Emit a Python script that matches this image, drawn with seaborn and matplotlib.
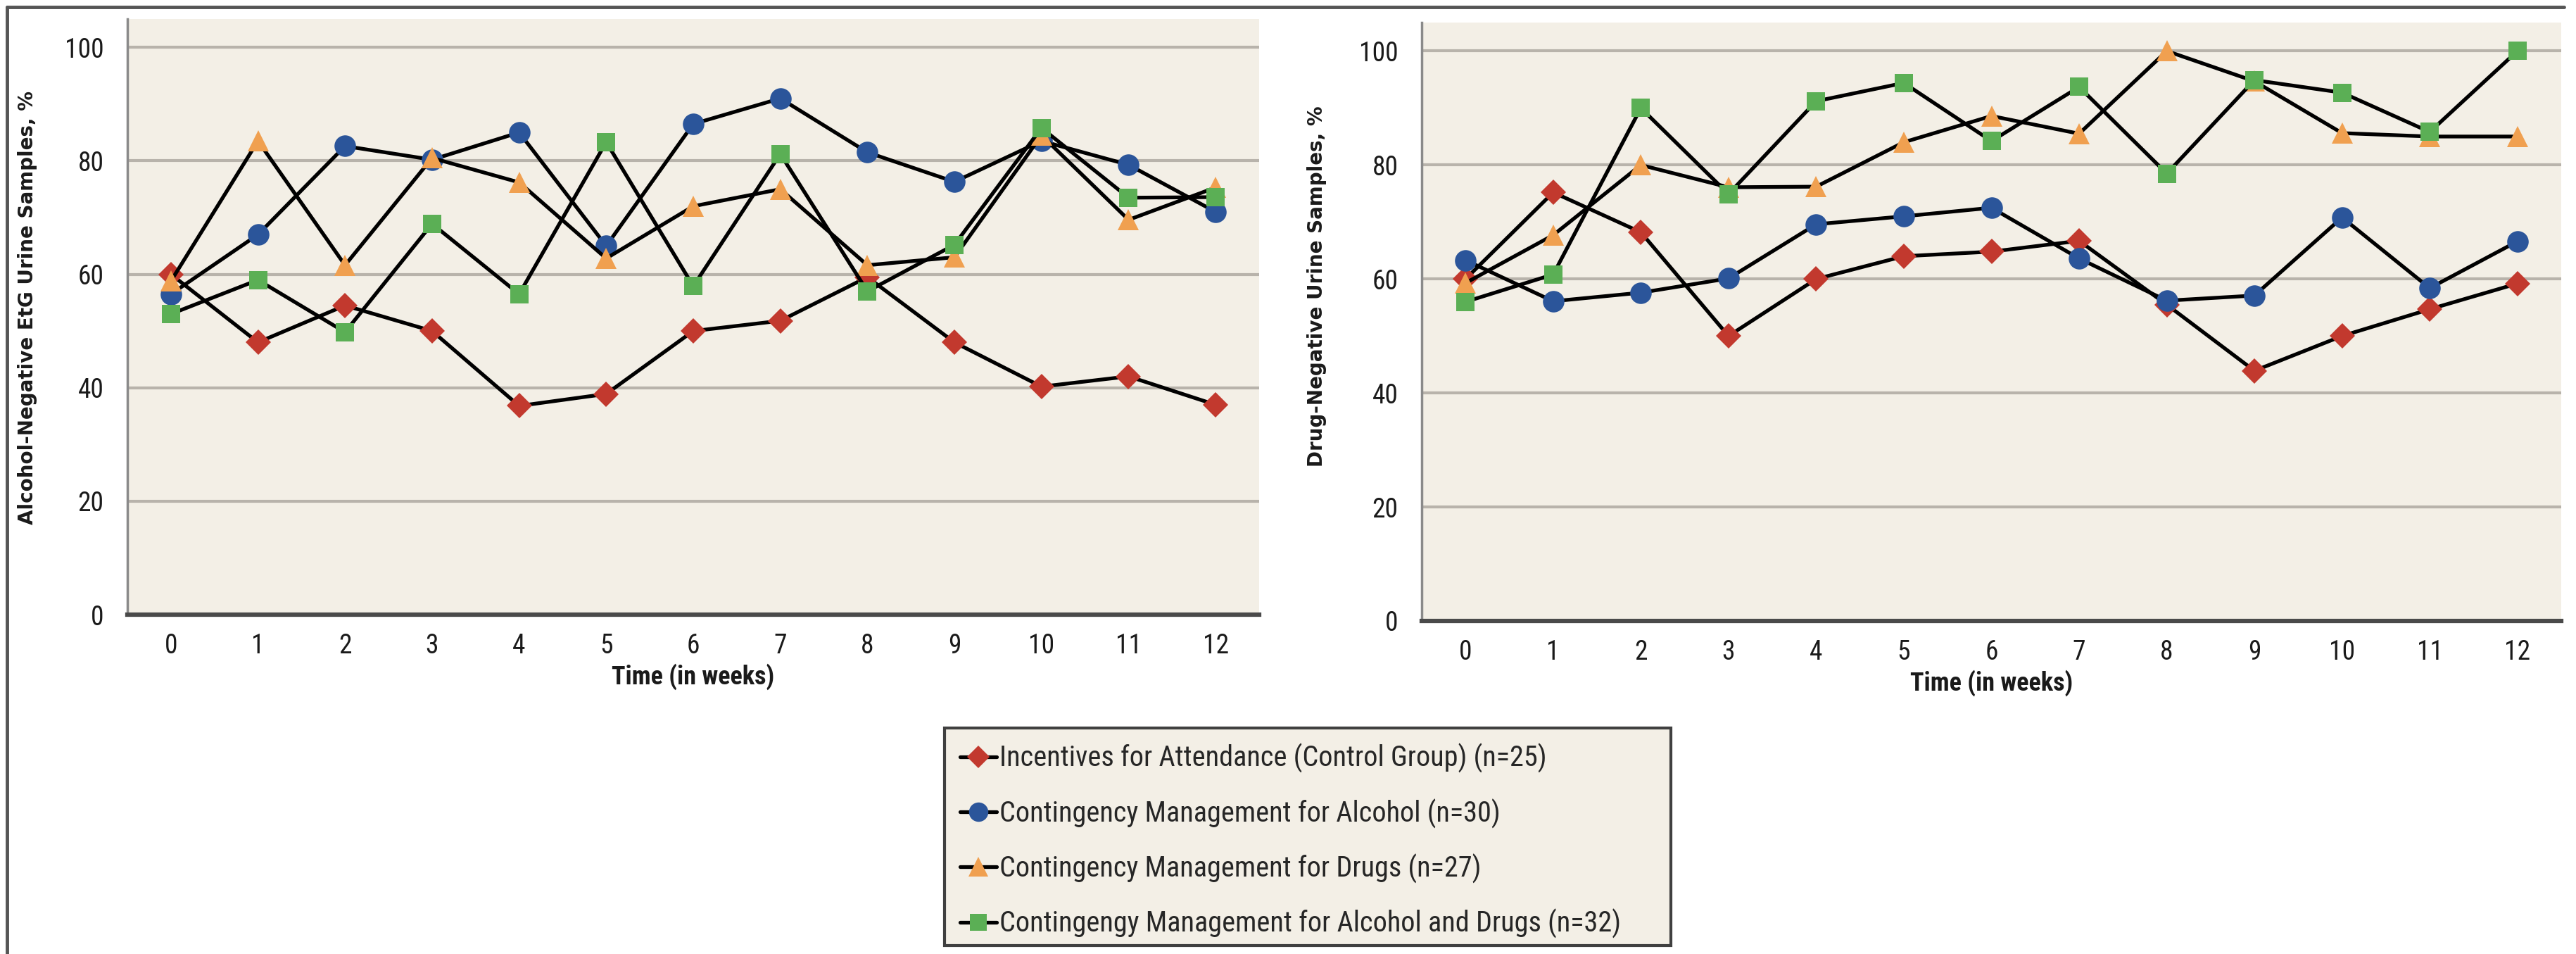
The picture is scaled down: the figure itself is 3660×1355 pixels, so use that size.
import matplotlib
matplotlib.use("Agg")
import matplotlib.pyplot as plt
import seaborn as sns
import numpy as np
import pandas as pd
from matplotlib.lines import Line2D
from matplotlib.patches import Rectangle
from matplotlib import font_manager

weeks = list(range(13))

series_names = [
    "Incentives for Attendance (Control Group) (n=25)",
    "Contingency Management for Alcohol (n=30)",
    "Contingency Management for Drugs (n=27)",
    "Contingengy Management for Alcohol and Drugs (n=32)",
]

# Alcohol-negative EtG urine samples, %
alc_control = [60, 48, 54.5, 50, 36.8, 38.9, 50, 51.8, 59.5, 48, 40.2, 42, 37]
alc_cm_alcohol = [56.5, 67, 82.6, 80.2, 85, 65, 86.5, 91, 81.5, 76.3, 83.5, 79.3, 71]
alc_cm_drugs = [58.8, 83.5, 61.6, 80.5, 76.2, 62.8, 72, 75, 61.6, 63, 84.5, 69.6, 75.3]
alc_cm_both = [53, 59, 49.8, 68.9, 56.5, 83.3, 57.9, 81.2, 57, 65.2, 85.8, 73.5, 73.6]

# Drug-negative urine samples, %
drg_control = [60, 75.2, 68.2, 50, 60, 64, 64.8, 66.7, 55.5, 43.9, 50, 54.7, 59.2]
drg_cm_alcohol = [63.3, 56.1, 57.6, 60.1, 69.6, 71, 72.5, 63.6, 56.2, 57.1, 70.8, 58.4, 66.6]
drg_cm_drugs = [59.3, 67.7, 80, 76.1, 76.2, 84, 88.6, 85.5, 100, 94.7, 85.6, 85, 85]
drg_cm_both = [56, 60.8, 90, 74.9, 91.2, 94.4, 84.2, 93.7, 78.5, 94.9, 92.7, 85.8, 100]

y_ticks = [0, 20, 40, 60, 80, 100]

colors = ["#C2392E", "#2B559A", "#F0A050", "#5BAF55"]
markers = ["D", "o", "^", "s"]
msizes = [18, 22, 22, 19]

bg = "#F3EFE6"
grid_c = "#B8B3AB"

sns.set_theme(style="white")

# pick a condensed font if one is installed
entries = font_manager.fontManager.ttflist
names = {f.name for f in entries}
narrow_family = None
narrow_stretch = "normal"
for cand in ["Liberation Sans Narrow", "Roboto Condensed", "Open Sans Condensed",
             "DejaVu Sans Condensed", "Noto Sans Condensed"]:
    if cand in names:
        narrow_family = cand
        break
if narrow_family is None:
    for f in entries:
        if f.name in ("DejaVu Sans", "Noto Sans", "Open Sans", "Roboto") and \
                str(f.stretch) in ("condensed", "semi-condensed", "extra-condensed", "75", "87.5"):
            narrow_family = f.name
            narrow_stretch = "condensed"
            break
if narrow_family is None:
    narrow_family = "DejaVu Sans"
    is_narrow = False
else:
    is_narrow = True

plt.rcParams["font.family"] = [narrow_family, "DejaVu Sans"]
plt.rcParams["font.stretch"] = narrow_stretch

k = 1.0 if is_narrow else 0.78
tick_fs = 27 * k
xlabel_fs = 26 * k
legend_fs = 29 * k

W, H = 3660, 1355
fig = plt.figure(figsize=(W / 100, H / 100), dpi=100)
fig.patch.set_facecolor("white")

ax1 = fig.add_axes([181 / W, 1 - 873 / H, 1608 / W, 846 / H])
ax2 = fig.add_axes([2020 / W, 1 - 882 / H, 1619 / W, 850 / H])

panels = [
    (ax1, [alc_control, alc_cm_alcohol, alc_cm_drugs, alc_cm_both],
     "Alcohol-Negative EtG Urine Samples, %", (-0.0796, 0.515)),
    (ax2, [drg_control, drg_cm_alcohol, drg_cm_drugs, drg_cm_both],
     "Drug-Negative Urine Samples, %", (-0.0834, 0.559)),
]

for ax, data, ylabel, lab_xy in panels:
    ax.set_facecolor(bg)
    for vals, c, m, ms, name in zip(data, colors, markers, msizes, series_names):
        df = pd.DataFrame({"week": weeks, "value": vals})
        sns.lineplot(data=df, x="week", y="value", ax=ax, color="black",
                     linewidth=3.8, marker=m, markersize=ms,
                     markerfacecolor=c, markeredgecolor=c, markeredgewidth=0,
                     zorder=3, label=None)
    ax.set_xlim(-0.5, 12.5)
    ax.set_ylim(0, 105)
    ax.set_xticks(weeks)
    ax.set_xticklabels([str(w) for w in weeks])
    ax.set_yticks(y_ticks)
    ax.set_yticklabels([str(t) for t in y_ticks])
    ax.yaxis.grid(True, color=grid_c, linewidth=3)
    ax.xaxis.grid(False)
    ax.set_axisbelow(True)
    for s in ["top", "right"]:
        ax.spines[s].set_visible(False)
    ax.spines["left"].set_color("#8A8A8A")
    ax.spines["left"].set_linewidth(2.5)
    ax.spines["bottom"].set_color("#4A4A4A")
    ax.spines["bottom"].set_linewidth(4.5)
    ax.tick_params(axis="both", length=0, labelsize=tick_fs, colors="#1A1A1A")
    ax.tick_params(axis="y", pad=24)
    ax.tick_params(axis="x", pad=19)
    ax.set_xlabel("Time (in weeks)", fontsize=xlabel_fs, fontweight="bold",
                  color="#1A1A1A", labelpad=4)
    ax.set_ylabel(ylabel, fontsize=20, fontweight="bold", color="#1A1A1A",
                  family=["DejaVu Sans"], fontstretch="normal")
    ax.yaxis.set_label_coords(*lab_xy)
    if ax.get_legend() is not None:
        ax.get_legend().remove()

# legend box
fig.add_artist(Rectangle((1342 / W, 1 - 1343 / H), (2374 - 1342) / W, (1343 - 1034) / H,
                         transform=fig.transFigure, facecolor=bg,
                         edgecolor="#404040", linewidth=3, zorder=1))

handles = [Line2D([0], [0], color="black", linewidth=3.8, marker=m,
                  markersize=ms * 0.9, markerfacecolor=c, markeredgecolor=c,
                  markeredgewidth=0)
           for c, m, ms in zip(colors, markers, msizes)]
leg = fig.legend(handles, series_names, loc="upper left",
                 bbox_to_anchor=(1364 / W, 1 - 1056 / H),
                 frameon=False, fontsize=legend_fs,
                 handlelength=1.3, handletextpad=0.1, labelspacing=0.9,
                 borderpad=0, borderaxespad=0)
leg.set_zorder(2)

# outer frame lines (left and top)
fig.add_artist(Line2D([10 / W, 10 / W], [0, 1 - 10 / H],
                      transform=fig.transFigure, color="#555555", linewidth=3.5))
fig.add_artist(Line2D([10 / W, 3643 / W], [1 - 10 / H, 1 - 10 / H],
                      transform=fig.transFigure, color="#555555", linewidth=3.5))

fig.savefig("out.png", dpi=100, facecolor="white")
